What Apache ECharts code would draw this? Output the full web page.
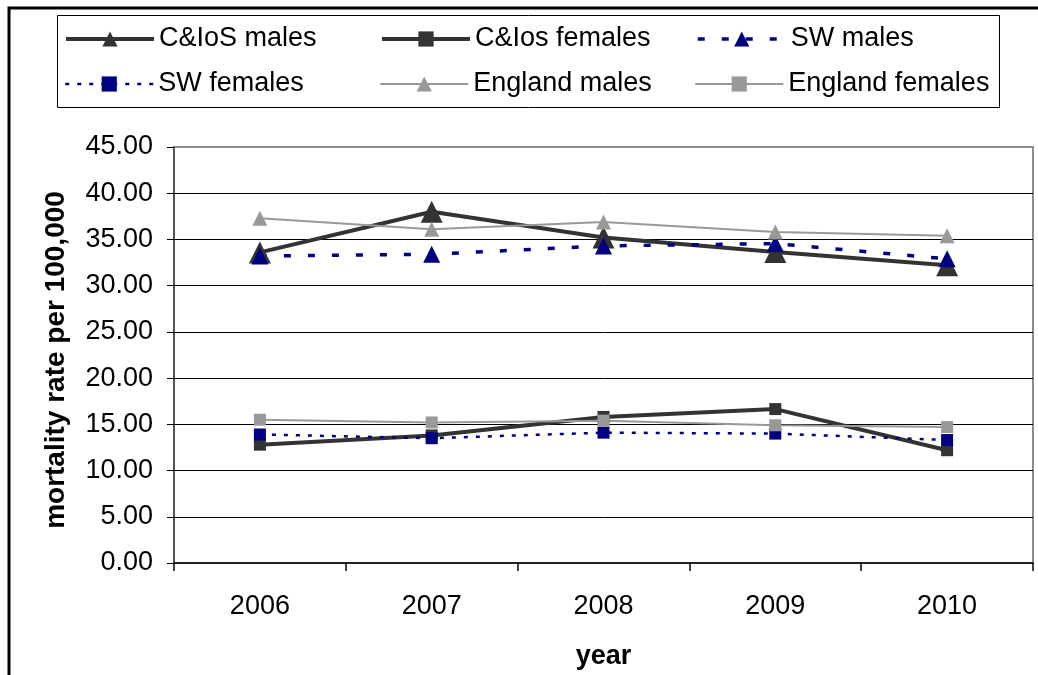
<!DOCTYPE html>
<html>
<head>
<meta charset="utf-8">
<script src="https://cdn.jsdelivr.net/npm/echarts@6/dist/echarts.min.js"></script>
<style>
html,body{margin:0;padding:0;background:#fff;}
#chart{width:1038px;height:675px;}
</style>
</head>
<body>
<div id="chart"></div>
<script>
var years = ['2006', '2007', '2008', '2009', '2010'];
var seriesNames = ['C&IoS males', 'C&Ios females', 'SW males', 'SW females', 'England males', 'England females'];
var ciosMales = [33.6, 38.0, 35.2, 33.65, 32.2];
var ciosFemales = [12.8, 13.8, 15.8, 16.65, 12.2];
var swMales = [33.2, 33.4, 34.3, 34.55, 32.9];
var swFemales = [13.9, 13.5, 14.1, 14.0, 13.3];
var englandMales = [37.3, 36.1, 36.9, 35.8, 35.4];
var englandFemales = [15.5, 15.2, 15.4, 14.9, 14.7];
var yTicks = [0, 5, 10, 15, 20, 25, 30, 35, 40, 45];

var FONT = "'Liberation Sans', Arial, sans-serif";
var DARK = '#333333', NAVY = '#000080', GREY = '#999999';

var styles = [
  { color: DARK, width: 4, type: 'solid', symbol: 'triangle', size: 22 },
  { color: DARK, width: 4, type: 'solid', symbol: 'rect', size: 12 },
  { color: NAVY, width: 3.5, type: [7, 17], symbol: 'triangle', size: 17 },
  { color: NAVY, width: 2.5, type: [4, 8], symbol: 'rect', size: 12 },
  { color: GREY, width: 2, type: 'solid', symbol: 'triangle', size: 15 },
  { color: GREY, width: 2, type: 'solid', symbol: 'rect', size: 12 }
];
var values = [ciosMales, ciosFemales, swMales, swFemales, englandMales, englandFemales];

var series = seriesNames.map(function (name, i) {
  var s = styles[i];
  return {
    name: name, type: 'line', data: values[i],
    symbol: s.symbol, symbolSize: s.size,
    itemStyle: { color: s.color, borderWidth: 0 },
    lineStyle: { color: s.color, width: s.width, type: s.type },
    emphasis: { disabled: true },
    animation: false
  };
});

function legendItems(from, to) {
  var out = [];
  for (var i = from; i < to; i++) {
    var s = styles[i];
    out.push({
      name: seriesNames[i],
      lineStyle: { color: s.color, width: s.width, type: s.type },
      itemStyle: { color: s.color, borderWidth: 0 }
    });
  }
  return out;
}

var chart = echarts.init(document.getElementById('chart'), null, { renderer: 'canvas' });
var legendCommon = {
  left: 64, itemWidth: 88, itemHeight: 19, itemGap: 10, padding: 0,
  orient: 'horizontal',
  textStyle: { fontFamily: FONT, fontSize: 27, color: '#000', width: 211, lineHeight: 28 }
};
chart.setOption({
  backgroundColor: '#fff',
  textStyle: { fontFamily: FONT },
  animation: false,
  legend: [
    Object.assign({}, legendCommon, { top: 25, data: legendItems(0, 3) }),
    Object.assign({}, legendCommon, { top: 70, data: legendItems(3, 6) })
  ],
  grid: { left: 174, right: 5, top: 147, bottom: 109, show: true, borderColor: '#8c8c8c', borderWidth: 2, backgroundColor: 'transparent' },
  xAxis: {
    type: 'category', data: years, boundaryGap: true,
    name: 'year', nameLocation: 'middle', nameGap: 80,
    nameTextStyle: { fontFamily: FONT, fontSize: 27, fontWeight: 'bold', color: '#000' },
    axisLine: { show: true, lineStyle: { color: '#000', width: 1.5 } },
    axisTick: { show: true, length: 8, inside: false, lineStyle: { color: '#000', width: 1.5 } },
    axisLabel: { fontFamily: FONT, fontSize: 27, color: '#000', margin: 30 },
    splitLine: { show: false }
  },
  yAxis: {
    type: 'value', min: yTicks[0], max: yTicks[yTicks.length - 1], interval: 5,
    name: 'mortality rate per 100,000', nameLocation: 'middle', nameGap: 104,
    nameTextStyle: { fontFamily: FONT, fontSize: 28, fontWeight: 'bold', color: '#000', padding: [0, 10, 0, 0] },
    axisLine: { show: true, lineStyle: { color: '#444', width: 1.5 } },
    axisTick: { show: true, length: 7, inside: false, lineStyle: { color: '#000', width: 1 } },
    axisLabel: { fontFamily: FONT, fontSize: 27, color: '#000', margin: 21, formatter: function (v) { return v.toFixed(2); } },
    splitLine: { show: true, showMaxLine: false, showMinLine: false, lineStyle: { color: '#000', width: 1 } }
  },
  graphic: [
    { type: 'rect', shape: { x: 57.5, y: 15.5, width: 942, height: 92 }, style: { fill: 'none', stroke: '#000', lineWidth: 1 }, z: 100 },
    { type: 'polyline', shape: { points: [[9, 675], [9, 8], [1038, 8]] }, style: { fill: 'none', stroke: '#000', lineWidth: 3 }, z: 100 }
  ],
  series: series
});
</script>
</body>
</html>
